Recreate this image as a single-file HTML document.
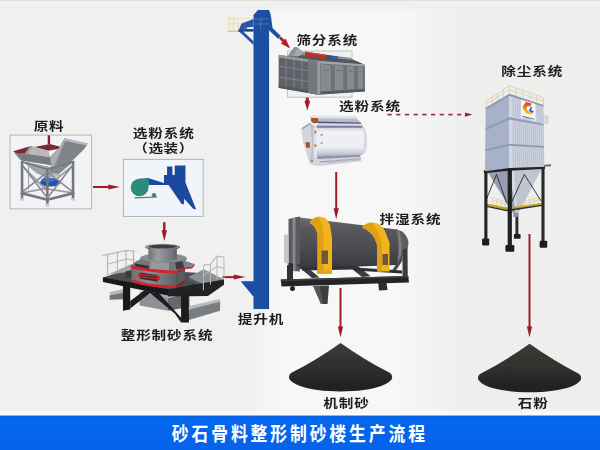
<!DOCTYPE html>
<html lang="zh-CN">
<head>
<meta charset="utf-8">
<title>砂石骨料整形制砂楼生产流程</title>
<style>
html,body{margin:0;padding:0;background:#f1f1f0;}
body{width:600px;height:450px;overflow:hidden;position:relative;font-family:"Liberation Sans","Noto Sans CJK SC",sans-serif;}
svg{display:block;position:absolute;left:0;top:0;}
.lb{font-family:"Liberation Sans","Noto Sans CJK SC",sans-serif;font-weight:700;font-size:14px;fill:#1c1c1c;letter-spacing:0.8px;}
.bn{font-family:"Liberation Sans","Noto Sans CJK SC",sans-serif;font-weight:700;font-size:16.8px;fill:#fff;letter-spacing:2.9px;}
</style>
</head>
<body>
<svg width="600" height="450" viewBox="0 0 600 450">
<defs>
  <linearGradient id="bg" gradientUnits="userSpaceOnUse" x1="0" y1="0" x2="600" y2="0">
    <stop offset="0" stop-color="#f0f0ef"/>
    <stop offset="0.42" stop-color="#f0f0ef"/>
    <stop offset="0.462" stop-color="#f7f7f7"/>
    <stop offset="0.66" stop-color="#f7f7f7"/>
    <stop offset="0.76" stop-color="#efefef"/>
    <stop offset="1" stop-color="#eeeeed"/>
  </linearGradient>
  <linearGradient id="ban" x1="0" y1="0" x2="0" y2="1">
    <stop offset="0" stop-color="#0267ee"/>
    <stop offset="1" stop-color="#0563ea"/>
  </linearGradient>
  <linearGradient id="tp" x1="0" y1="0" x2="0" y2="1">
    <stop offset="0" stop-color="#e3ddd6"/>
    <stop offset="0.09" stop-color="#e6e1da"/>
    <stop offset="0.15" stop-color="#f5f3ea"/>
    <stop offset="0.3" stop-color="#f3f3ee"/>
    <stop offset="0.5" stop-color="#eef0f3"/>
    <stop offset="0.75" stop-color="#eef0f2" stop-opacity="0.8"/>
    <stop offset="1" stop-color="#efefee" stop-opacity="0"/>
  </linearGradient>
  <linearGradient id="wl" x1="0" y1="0" x2="0" y2="1">
    <stop offset="0" stop-color="#f8f8fa" stop-opacity="0"/>
    <stop offset="0.45" stop-color="#f8f8fa" stop-opacity="0.9"/>
    <stop offset="1" stop-color="#fbfbfd" stop-opacity="1"/>
  </linearGradient>
  <filter id="soft" x="0" y="0" width="600" height="450" filterUnits="userSpaceOnUse"><feGaussianBlur stdDeviation="0.45"/></filter>
  <filter id="soft2" x="0" y="0" width="600" height="450" filterUnits="userSpaceOnUse"><feGaussianBlur stdDeviation="0.3"/></filter>
  <marker id="ah" markerWidth="8" markerHeight="8" refX="4" refY="4" orient="auto" markerUnits="userSpaceOnUse">
    <path d="M0,0 L8,4 L0,8 Z" fill="#b5252b"/>
  </marker>
</defs>
<!-- BACKGROUND -->
<rect width="600" height="450" fill="url(#bg)"/>
<rect width="600" height="11" fill="url(#tp)"/>
<!-- BANNER -->
<rect x="0" y="408.5" width="600" height="7.5" fill="url(#wl)"/>
<rect x="0" y="415.7" width="600" height="34.3" fill="url(#ban)"/>
<rect x="0" y="415.7" width="600" height="0.9" fill="#0b52c8" opacity="0.7"/>
<text class="bn" transform="translate(171.8,440.8) scale(1,1.16)">砂石骨料整形制砂楼生产流程</text>


<g filter="url(#soft)">
<!-- ARROWS -->
<g fill="#9c1f29" stroke="none">
  <rect x="47.7" y="135.5" width="2.4" height="8" fill="#8e1f2a"/>
  <!-- hopper -> classifier -->
  <rect x="93" y="186.0" width="16.3" height="2.0"/><path d="M108.3,184.5 L119.8,187.0 L108.3,189.5 Z"/>
  <!-- classifier -> crusher -->
  <rect x="163.1" y="222.2" width="2.4" height="9.0"/><path d="M161.6,230.2 L164.3,241.2 L167,230.2 Z"/>
  <!-- crusher -> elevator -->
  <rect x="222.5" y="276.1" width="12.3" height="2.0"/><path d="M233.8,274.6 L245.3,277.1 L233.8,279.6 Z"/>
  <!-- elevator -> screen -->
  <path d="M278,37.4 L279.8,35.4 L284.4,39.8 L285.6,38.6 L290.2,48.6 L280.8,43.6 L282.4,42 Z" fill="#b0222c"/>
  <!-- screen -> separator -->
  <path d="M305.9,97 L308.7,97 L308.9,100.6 L310.1,101.2 L307.3,110.4 L304.5,101.2 L305.7,100.6 Z" fill="#a51f29"/>
  <!-- separator -> mixer -->
  <rect x="335.2" y="172" width="2.0" height="37.2"/><path d="M333.6,208.2 L336.2,219.2 L338.8,208.2 Z"/>
  <!-- mixer -> pile -->
  <rect x="339.5" y="288" width="2.0" height="39.5"/><path d="M337.9,326.5 L340.5,337.5 L343.1,326.5 Z"/>
  <!-- dust -> pile -->
  <rect x="528.5" y="234" width="2.0" height="93.5"/><path d="M526.9,326.5 L529.5,337.5 L532.1,326.5 Z"/>
  <!-- dashed -->
  <g fill="#9e2636">
    <rect x="387.5" y="113.8" width="4.2" height="1.6"/><rect x="396.2" y="113.8" width="4.2" height="1.6"/>
    <rect x="404.9" y="113.8" width="4.2" height="1.6"/><rect x="413.6" y="113.8" width="4.2" height="1.6"/>
    <rect x="422.3" y="113.8" width="4.2" height="1.6"/><rect x="431" y="113.8" width="4.2" height="1.6"/>
    <rect x="439.7" y="113.8" width="4.2" height="1.6"/><rect x="448.4" y="113.8" width="4.2" height="1.6"/>
    <rect x="457.1" y="113.8" width="4.2" height="1.6"/>
    <path d="M465,112.5 L472.5,114.6 L465,116.7 Z"/>
  </g>
</g>

<!-- PILES -->
<g>
  <linearGradient id="pg" x1="0" y1="0" x2="0" y2="1"><stop offset="0" stop-color="#3b3b38"/><stop offset="0.55" stop-color="#2e2e2c"/><stop offset="1" stop-color="#1f1f1f"/></linearGradient>
  <path d="M340.6,342.9 Q317.6,359.3 291.0,373.1 A51.6,14.4 0 1 0 390.20000000000005,373.1 Q363.6,359.3 340.6,342.9 Z" fill="url(#pg)"/>
  <path d="M529.6,343.8 Q506.6,360.2 480.0,374.0 A51.6,14.4 0 1 0 579.2,374.0 Q552.6,360.2 529.6,343.8 Z" fill="url(#pg)"/>
</g>

<!-- HOPPER (raw material) -->
<g transform="translate(8,133) scale(0.17121)">
  <rect x="12" y="12" width="476" height="431" fill="#f2f3f5" stroke="#a6aeba" stroke-width="5"/>
  <rect x="232" y="14" width="14" height="50" fill="#8e1f2a"/>
  <!-- back frame -->
  <g stroke="#999ca1" stroke-width="10" fill="none">
    <line x1="215" y1="200" x2="215" y2="335"/>
    <line x1="82" y1="350" x2="215" y2="325"/><line x1="215" y1="325" x2="380" y2="350"/>
    <line x1="82" y1="190" x2="215" y2="325"/><line x1="380" y1="190" x2="215" y2="325"/>
    <line x1="120" y1="190" x2="120" y2="330" stroke-width="6"/>
  </g>
  <!-- blue motor -->
  <ellipse cx="248" cy="288" rx="60" ry="25" fill="#2751ab"/>
  <ellipse cx="236" cy="274" rx="42" ry="14" fill="#3c6bc6"/>
  <!-- cone under hopper -->
  <path d="M85,165 L250,200 L385,165 L290,245 L225,262 L165,232 Z" fill="#85888e"/>
  <path d="M85,165 L250,200 L240,258 L165,232 Z" fill="#a0a3a8"/>
  <ellipse cx="270" cy="245" rx="38" ry="10" fill="#b7b9bd"/>
  <!-- frame front -->
  <g stroke="#73767c" stroke-width="15" fill="none" stroke-linecap="square">
    <line x1="82" y1="170" x2="82" y2="385"/>
    <line x1="230" y1="215" x2="230" y2="420"/>
    <line x1="380" y1="170" x2="380" y2="385"/>
    <line x1="82" y1="352" x2="230" y2="390"/><line x1="230" y1="390" x2="380" y2="352"/>
    <line x1="82" y1="168" x2="230" y2="212" stroke-width="10"/><line x1="230" y1="212" x2="380" y2="168" stroke-width="10"/>
  </g>
  <g stroke="#85888e" stroke-width="9" fill="none">
    <line x1="82" y1="185" x2="230" y2="380"/><line x1="82" y1="345" x2="228" y2="230"/>
    <line x1="380" y1="185" x2="230" y2="380"/><line x1="380" y1="345" x2="232" y2="230"/>
  </g>
  <g fill="#c9cbcf">
    <rect x="70" y="380" width="24" height="14"/><rect x="218" y="412" width="24" height="16"/><rect x="368" y="380" width="24" height="14"/>
  </g>
  </g><g transform="translate(8,133) scale(0.14667)">
  <!-- hopper top -->
  <path d="M60,140 L285,165 L430,195 L295,232 L290,218 L95,188 Z" fill="#6f7278"/>
  <path d="M35,125 L150,90 L180,96 L115,142 L60,142 Z" fill="#7b2c33"/>
  <path d="M35,125 L60,142 L95,188 L80,180 Z" fill="#85888e"/>
  <path d="M180,95 L285,75 L385,100 L275,121 Z" fill="#7a2930"/>
  <path d="M115,142 L150,90 L180,96 L275,121 L287,166 L115,146 Z" fill="#b6b9be"/>
  <path d="M115,142 L150,90 L165,93 L135,144 Z" fill="#9c9fa5"/>
  <path d="M60,140 L115,142 L287,166 L290,218 L95,186 Z" fill="#777a80"/>
  <!-- right wing plate -->
  <path d="M385,35 L545,72 L520,107 L430,196 L295,232 L287,162 L350,100 Z" fill="#8d9096"/>
  <path d="M385,35 L545,72 L535,86 L376,50 Z" fill="#b9bbc0"/>
  <path d="M287,162 L350,100 L376,50 L392,56 L365,112 L312,226 L295,232 Z" fill="#a9acb1"/>
  <path d="M392,56 L535,86 L520,107 L430,196 L330,222 L365,112 Z" fill="#80838a"/>
</g>

<!-- CLASSIFIER BOX (optional) -->
<g transform="translate(118,155) scale(0.15333)">
  <rect x="35" y="28" width="520" height="372" fill="#f1f5f9" stroke="#98a1ae" stroke-width="5"/>
  <path d="M195,150 L300,182 L300,130 L320,130 L320,75 L355,75 L355,130 L370,130 L370,68 L440,68 L440,180 L510,355 L490,350 L432,285 L430,322 L415,320 L330,195 L200,195 Z" fill="#1f4aa0"/>
  <circle cx="140" cy="212" r="57" fill="#2e8b7b"/><path d="M135,155 L200,149 L201,198 L192,240 Z" fill="#2e8b7b"/>
  <circle cx="235" cy="262" r="14" fill="#3a8575"/>
  <path d="M108,276 L255,270 L255,277 L108,283 Z" fill="#3a7d70"/>
</g>

<!-- ELEVATOR -->
<g>
  <g transform="translate(225,0) scale(0.13333)">
    <!-- railing -->
    <g stroke="#dcd8a8" stroke-width="5" fill="none">
      <rect x="27" y="135" width="72" height="98" fill="#f0efe2"/>
      <line x1="27" y1="178" x2="99" y2="178"/><line x1="64" y1="135" x2="64" y2="233"/>
      <line x1="99" y1="138" x2="214" y2="140" stroke="#e3e0bf"/>
    </g>
    <rect x="24" y="231" width="80" height="8" fill="#c4c19e"/>
    <rect x="98" y="226" width="118" height="10" fill="#3b4d78"/>
    <!-- head -->
    <path d="M247,75 L330,75 L343,112 L356,210 L416,268 L400,292 L330,226 L330,2317 L214,2317 L214,2225 L118,2110 L214,2110 L214,112 Z" fill="#1c4fa3" stroke="#dfe8f6" stroke-width="9" paint-order="stroke"/>
    <path d="M124,176 L214,142 L214,200 L163,207 L163,218 L214,218 L214,232 L100,232 Z" fill="#2355ab"/>
    <path d="M98,228 L122,224 L214,310 L214,338 Z" fill="#2355ab"/>
    <rect x="104" y="223" width="112" height="12" fill="#27437f"/>
    <rect x="324" y="330" width="6" height="1987" fill="#163f8a" opacity="0.6"/>
    <g stroke="#b9c2a6" stroke-width="3" fill="none" opacity="0.75">
      <line x1="268" y1="140" x2="268" y2="228"/><line x1="214" y1="142" x2="330" y2="142"/>
      <line x1="214" y1="180" x2="330" y2="180"/><line x1="150" y1="168" x2="150" y2="228"/>
    </g>
  </g>
  </g>
</g>


<!-- CRUSHER -->
<g transform="translate(98,232) scale(0.23333)">
  <defs>
    <linearGradient id="cyl" x1="0" y1="0" x2="1" y2="0">
      <stop offset="0" stop-color="#5f6267"/><stop offset="0.35" stop-color="#9a9da2"/><stop offset="0.7" stop-color="#7b7e84"/><stop offset="1" stop-color="#55585d"/>
    </linearGradient>
    <linearGradient id="cyl2" x1="0" y1="0" x2="1" y2="0">
      <stop offset="0" stop-color="#6a6d72"/><stop offset="0.4" stop-color="#8e9196"/><stop offset="1" stop-color="#5a5d62"/>
    </linearGradient>
  </defs>
  <!-- base beams -->
  <path d="M50,258 L108,244 L108,262 L50,275 Z" fill="#b4b6ba"/>
  <path d="M50,272 L108,260 L108,288 L50,290 Z" fill="#707378"/>
  <path d="M386,318 L523,287 L523,300 L386,335 Z" fill="#b9bbbe"/>
  <path d="M386,333 L523,299 L523,338 L386,378 Z" fill="#7a7d82"/>
  <!-- base box -->
  <path d="M178,258 L300,283 L300,338 L178,315 Z" fill="#8e9196"/>
  <path d="M300,283 L392,262 L392,320 L300,338 Z" fill="#65686d"/>
  <path d="M178,258 L232,236 L320,262 L300,285 Z" fill="#a3a6ab"/>
  <!-- left railing -->
  <g stroke="#b0b2b6" stroke-width="4.5" fill="none">
    <path d="M19,101 L41,97 L120,79 L158,82"/>
    <path d="M41,138 L120,116 L158,120"/>
    <line x1="41" y1="97" x2="41" y2="185"/><line x1="83" y1="87" x2="83" y2="165"/>
    <line x1="120" y1="79" x2="120" y2="148"/><line x1="152" y1="82" x2="152" y2="132"/>
  </g>
  <!-- platform top -->
  <path d="M21,195 L140,158 L420,175 L540,206 L300,250 Z" fill="#4b4d51"/>
  <path d="M43,182 L141,138 L188,146 L120,173 Z" fill="#a3a5a9"/>
  <!-- right box -->
  <path d="M386,193 L454,160 L540,204 L471,236 Z" fill="#8c8f93"/>
  <path d="M386,193 L471,236 L471,250 L386,208 Z" fill="#55585c"/>
  <path d="M400,215 L455,238 L455,262 L400,240 Z" fill="#3c3e42"/>
  <!-- platform edges -->
  <path d="M21,194 L300,245 L300,272 L21,214 Z" fill="#19191b"/>
  <path d="M300,245 L540,204 L540,226 L471,274 L300,276 Z" fill="#222224"/>
  <!-- legs -->
  <path d="M107,224 L138,231 L138,332 L107,338 Z" fill="#19191b"/>
  <path d="M356,268 L388,266 L390,388 L356,388 Z" fill="#1c1c1e"/>
  <path d="M138,296 L200,250 L230,256 L138,328 Z" fill="#1d1d1f"/>
  <path d="M215,255 L262,262 L358,370 L356,388 L330,350 Z" fill="#1d1d1f"/>
  <!-- flat ring behind tube -->
  <ellipse cx="280" cy="116" rx="100" ry="20" fill="#5d6064"/>
  <ellipse cx="280" cy="112" rx="100" ry="20" fill="#8a8d92"/>
  <!-- cone -->
  <path d="M182,118 Q277,146 374,118 L373,157 L336,170 Q215,168 141,147 Q150,128 182,118 Z" fill="#73767b"/>
  <path d="M224,128 L304,132 L304,168 L224,162 Z" fill="#95989d"/>
  <path d="M158,135 L218,146 L218,159 L160,147 Z" fill="#2f3135"/>
  <path d="M330,131 L361,125 L370,154 L336,161 Z" fill="#3b3d41"/>
  <path d="M361,120 L413,137 L401,149 L372,151 Z" fill="#7f8287"/>
  <path d="M372,151 L401,149 L413,137 L415,143 L402,156 L373,159 Z" fill="#d0222a"/>
  <!-- main body -->
  <path d="M141,148 Q215,168 336,170 L336,234 Q215,230 143,206 Z" fill="url(#cyl2)"/>
  <path d="M336,170 L373,157 L373,208 L336,234 Z" fill="#585b60"/>
  <!-- small motor left -->
  <path d="M118,168 L143,164 L143,194 L118,196 Z" fill="#3a3c40"/>
  <!-- red rings -->
  <path d="M139,143 Q215,164 336,166 L336,177 Q215,175 141,155 Z" fill="#d8222a"/>
  <path d="M336,166 L373,154 L373,163 L336,177 Z" fill="#b81c24"/>
  <path d="M143,202 Q215,226 336,229 L336,241 Q215,238 146,215 Z" fill="#d8222a"/>
  <path d="M336,229 L373,205 L373,214 L336,241 Z" fill="#9a1a20"/>
  <path d="M179,174 L256,184 L256,213 L179,200 Z" fill="#2c2e31"/>
  <path d="M172,176 L182,178 L182,196 L172,193 Z" fill="#d8222a"/>
  <path d="M253,187 L266,189 L266,206 L253,204 Z" fill="#d8222a"/>
  <path d="M182,178 L253,187 L253,193 L182,184 Z" fill="#cf2028"/>
  <path d="M182,189 L253,198 L253,204 L182,195 Z" fill="#cf2028"/>
  <!-- top cylinder -->
  <path d="M203,60 L351,60 L351,68 L338,74 L338,118 Q277,136 216,118 L216,74 L203,68 Z" fill="url(#cyl)"/>
  <ellipse cx="277" cy="61" rx="75" ry="11" fill="#a3a6ab"/>
  <ellipse cx="277" cy="62.5" rx="63" ry="8.5" fill="#3d3f43"/>
  <!-- right railing -->
  <g stroke="#b5b7ba" stroke-width="4.5" fill="none">
    <path d="M452,142 L482,138 L510,103 L540,108"/>
    <path d="M452,185 L510,148 L540,155"/>
    <line x1="452" y1="142" x2="452" y2="250"/><line x1="510" y1="103" x2="510" y2="205"/><line x1="540" y1="108" x2="540" y2="195"/>
    <line x1="482" y1="138" x2="482" y2="225"/>
  </g>
</g>


<!-- SCREEN -->
<g transform="translate(278,38) scale(0.2)">
  <rect x="48" y="65" width="322" height="231" fill="#eef0f2" stroke="#b3b8c0" stroke-width="4"/>
  <!-- inlet hood -->
  <path d="M45,95 L82,45 L100,48 L135,78 L135,105 Z" fill="#a7aaaf"/>
  <path d="M82,45 L100,48 L70,100 L45,95 Z" fill="#8d9095"/>
  <path d="M100,92 L135,78 L372,106 L435,134 L200,118 L3,88 Z" fill="#53565b"/>
  <!-- shaft -->
  <path d="M125,70 L370,100 L370,110 L125,88 Z" fill="#8a8d92"/>
  <path d="M135,68 L240,84 L240,106 L135,92 Z" fill="#ad3529"/>
  <path d="M135,68 L240,84 L240,90 L135,74 Z" fill="#c44c3c"/>
  <path d="M240,84 L300,94 L300,110 L240,104 Z" fill="#4a4d52"/>
  <path d="M262,88 L300,94 L300,106 L262,102 Z" fill="#2c5fa8"/>
  <!-- left (long) face -->
  <path d="M3,86 L200,116 L200,282 L3,248 Z" fill="#5f6369"/>
  <g stroke="#81868c" stroke-width="5" fill="none">
    <line x1="40" y1="94" x2="40" y2="254"/><line x1="80" y1="100" x2="80" y2="261"/>
    <line x1="120" y1="106" x2="120" y2="268"/><line x1="160" y1="112" x2="160" y2="275"/>
    <line x1="3" y1="141" x2="200" y2="171"/><line x1="3" y1="195" x2="200" y2="226"/>
  </g>
  <path d="M3,84 L200,114 L200,128 L3,98 Z" fill="#969a9f"/>
  <path d="M3,236 L200,269 L200,284 L3,250 Z" fill="#54575c"/>
  <path d="M150,108 L200,116 L200,282 L150,274 Z" fill="#74787e"/>
  <!-- right face -->
  <path d="M200,116 L435,134 L435,266 L200,282 Z" fill="#767a80"/>
  <g fill="#878b91" stroke="#54575c" stroke-width="3">
    <path d="M212,128 L268,132 L268,266 L212,270 Z"/>
    <path d="M280,133 L330,136 L330,262 L280,265 Z"/>
    <path d="M342,137 L385,140 L385,258 L342,261 Z"/>
    <path d="M396,141 L428,143 L428,255 L396,257 Z"/>
  </g>
  <g stroke="#6a6d72" stroke-width="4">
    <line x1="225" y1="160" x2="258" y2="161"/><line x1="290" y1="163" x2="322" y2="164"/><line x1="350" y1="166" x2="378" y2="167"/><line x1="402" y1="168" x2="424" y2="169"/>
  </g>
  <path d="M200,114 L435,132 L435,142 L200,126 Z" fill="#a3a7ac"/>
  <path d="M200,270 L435,256 L435,268 L200,284 Z" fill="#55585d"/>
  <path d="M197,114 L212,116 L212,283 L197,283 Z" fill="#9a9ea3"/>
</g>

<!-- POWDER SEPARATOR -->
<g transform="translate(296,110) scale(0.1377)">
  <defs>
    <linearGradient id="drum" x1="0" y1="0" x2="0" y2="1">
      <stop offset="0" stop-color="#c9cad6"/><stop offset="0.18" stop-color="#f0f0f5"/><stop offset="0.7" stop-color="#ecedf2"/><stop offset="0.9" stop-color="#c6c8d3"/><stop offset="1" stop-color="#a9abba"/>
    </linearGradient>
  </defs>
  <!-- base -->
  <path d="M95,392 L150,332 L465,318 L476,372 L170,408 Z" fill="#d3d5de"/>
  <path d="M150,338 L465,322 L468,340 L160,356 Z" fill="#8e90a6"/>
  <path d="M175,372 L470,350 L472,358 L176,382 Z" fill="#9a9cb0"/>
  <g fill="#b5b7c6"><path d="M228,368 L300,362 L300,380 L228,386 Z"/><path d="M318,360 L385,355 L385,372 L318,378 Z"/><path d="M400,354 L455,350 L455,366 L400,371 Z"/></g>
  <!-- drum -->
  <path d="M150,122 L478,118 Q515,125 515,222 Q515,318 478,326 L150,338 Z" fill="url(#drum)"/>
  <path d="M478,118 Q515,125 515,222 Q515,318 478,326 Q496,300 496,222 Q496,140 478,118 Z" fill="#d4d5de"/>
  <!-- left end -->
  <path d="M38,132 L100,92 L142,122 L142,342 L98,384 L52,236 Z" fill="#d2d4de"/>
  <path d="M38,132 L100,92 L108,100 L52,140 Z" fill="#a4a6b8"/>
  <path d="M100,92 L142,122 L142,342 L98,384 L118,240 Z" fill="#c0c2cf"/>
  <path d="M128,130 L150,122 L150,338 L128,348 Z" fill="#e4e5ec"/>
  <!-- top plates -->
  <path d="M98,38 L440,44 L442,62 L104,60 Z" fill="#e3e4eb"/>
  <path d="M104,60 L442,62 L470,92 L160,88 Z" fill="#b9bbca"/>
  <path d="M160,84 L472,90 L472,102 L160,98 Z" fill="#4f5480"/>
  <path d="M150,98 L482,100 L486,114 L150,112 Z" fill="#dcdde6"/>
  <path d="M150,112 L486,114 L478,128 L150,128 Z" fill="#7a7e9c"/>
  <!-- details -->
  <path d="M108,56 L160,60 L162,92 L130,98 L110,84 Z" fill="#a5521f"/>
  <path d="M68,236 L98,232 L102,272 L76,276 Z" fill="#a5521f"/>
  <rect x="134" y="150" width="14" height="20" fill="#c07040"/>
  <rect x="178" y="174" width="16" height="12" fill="#b98a70"/>
  <rect x="134" y="250" width="14" height="18" fill="#c07040"/>
  <rect x="178" y="236" width="16" height="10" fill="#b98a70"/>
  <rect x="108" y="364" width="16" height="14" fill="#b9764c"/>
</g>


<!-- MIXER -->
<g transform="translate(272,205) scale(0.25)">
  <defs>
    <linearGradient id="mdrum" x1="0" y1="0" x2="0" y2="1">
      <stop offset="0" stop-color="#6d6f72"/><stop offset="0.2" stop-color="#585a5e"/><stop offset="0.6" stop-color="#4a4c50"/><stop offset="1" stop-color="#36383b"/>
    </linearGradient>
  </defs>
  <!-- discharge end -->
  <path d="M495,96 L523,107 Q545,130 546,150 Q545,180 527,200 L498,240 Z" fill="#5d5f62"/>
  <path d="M495,96 L508,101 Q530,165 508,228 L498,240 Z" fill="#7b7d80"/>
  <!-- right stand -->
  <path d="M522,178 L542,172 L543,290 L522,290 Z" fill="#3a3c3f"/>
  <path d="M480,262 L522,200 L522,222 L492,268 Z" fill="#4a4c50"/>
  <!-- drum -->
  <path d="M95,48 L500,98 Q512,170 500,240 L95,256 Z" fill="url(#mdrum)"/>
  <!-- left end cap -->
  <path d="M66,56 L112,46 L112,266 L66,262 Z" fill="#595b5f"/>
  <path d="M82,52 L94,50 L94,265 L82,264 Z" fill="#85888c"/>
  <path d="M48,120 L66,116 L66,236 L48,230 Z" fill="#c3c5c7"/>
  <path d="M66,232 L84,234 L84,296 L66,296 Z" fill="#2e3033"/>
  <!-- rails under drum -->
  <path d="M95,238 L125,236 L190,290 L160,292 Z" fill="#3a3c40"/>
  <path d="M300,240 L335,238 L395,285 L360,288 Z" fill="#3a3c40"/>
  <path d="M120,250 L330,245 L330,258 L120,262 Z" fill="#2d2f32"/>
  <path d="M330,250 L520,262 L520,274 L330,262 Z" fill="#2d2f32"/>
  <!-- ring 1 -->
  <path d="M150,72 Q160,48 190,46 Q222,48 232,80 L240,130 L240,268 L182,268 L182,120 Q176,82 150,72 Z" fill="#f3b31d"/>
  <path d="M150,72 Q160,52 182,48 Q200,60 205,120 L205,268 L182,268 L182,120 Q176,82 150,72 Z" fill="#dfa016"/>
  <path d="M198,182 L224,182 L224,236 L198,236 Z" fill="#6b5a3a"/><path d="M180,262 L240,262 L240,276 L180,276 Z" fill="#e5a718"/>
  <!-- ring 2 -->
  <path d="M360,90 Q375,70 405,70 Q440,76 452,105 L470,150 L470,266 L420,266 L420,160 Q408,108 360,90 Z" fill="#f3b31d"/>
  <path d="M360,90 Q375,72 398,70 Q428,100 440,160 L440,266 L420,266 L420,160 Q408,108 360,90 Z" fill="#dfa016"/>
  <path d="M442,196 L464,196 L464,240 L442,240 Z" fill="#6b5a3a"/>
  <!-- base frame -->
  <path d="M35,298 L545,284 L548,310 L38,326 Z" fill="#232426"/>
  <path d="M35,298 L545,284 L545,290 L35,305 Z" fill="#3d3f42"/>
  <path d="M60,300 L75,300 L75,245 L60,240 Z" fill="#2f3134"/>
  <circle cx="82" cy="334" r="10" fill="#1e1f21"/>
  <!-- center leg/hopper -->
  <path d="M165,324 L228,322 L222,396 L196,396 Z" fill="#3b3d41"/>
  <path d="M165,324 L190,324 L205,396 L196,396 Z" fill="#55575b"/>
  <!-- right foot -->
  <path d="M425,312 L458,310 L462,340 L428,342 Z" fill="#2b2c2f"/>
</g>


<!-- DUST COLLECTOR -->
<g transform="translate(475,80) scale(0.2222)">
  <defs>
    <pattern id="ribsR" width="9" height="10" patternUnits="userSpaceOnUse">
      <rect width="9" height="10" fill="#c9cfdc"/><rect x="0" width="3" height="10" fill="#b7bfd0"/>
    </pattern>
  </defs>
  <!-- back leg -->
  <rect x="182" y="590" width="13" height="108" fill="#2a2b2e"/>
  <rect x="175" y="693" width="30" height="22" rx="4" fill="#1e1f21"/>
  <!-- cone -->
  <path d="M57,414 L158,408 L184,600 L168,596 Z" fill="#979eb0"/>
  <path d="M158,408 L298,404 L194,602 L184,600 Z" fill="#bfc5d1"/>
  <path d="M158,408 L175,408 L190,600 L184,600 Z" fill="#d5d9e2"/>
  <rect x="172" y="598" width="22" height="18" fill="#8d93a3"/>
  <!-- platform railings -->
  <g stroke="#d6cc92" stroke-width="3" fill="none">
    <path d="M78,528 L136,548 M78,540 L136,560 M78,528 L78,562 M98,535 L98,568 M118,541 L118,573 M136,548 L136,577"/>
    <path d="M224,545 L286,528 M224,558 L286,540 M224,545 L224,575 M245,539 L245,570 M266,533 L266,565 M286,528 L286,560"/>
  </g>
  <!-- platform -->
  <path d="M52,556 L143,574 L308,552 L308,560 L143,584 L52,566 Z" fill="#c8a51e"/>
  <path d="M52,566 L143,584 L308,560 L308,566 L143,591 L52,572 Z" fill="#2a2b2e"/>
  <!-- braces -->
  <g stroke="#232427" stroke-width="4" fill="none">
    <path d="M52,535 L97,425 L143,555"/><path d="M167,545 L222,425 L298,545"/>
  </g>
  <!-- frame top beam -->
  <path d="M40,406 L156,393 L315,388 L315,400 L156,408 L40,420 Z" fill="#232427"/>
  <!-- legs -->
  <rect x="42" y="410" width="14" height="310" fill="#232427"/>
  <rect x="32" y="713" width="32" height="32" rx="5" fill="#1b1c1e"/>
  <rect x="299" y="396" width="14" height="332" fill="#2a2b2e"/>
  <rect x="291" y="723" width="34" height="32" rx="5" fill="#1b1c1e"/>
  <rect x="147" y="400" width="19" height="348" fill="#1f2022"/>
  <rect x="137" y="743" width="40" height="30" rx="5" fill="#1b1c1e"/>
  <!-- body -->
  <path d="M48,125 L155,62 L155,396 L45,411 Z" fill="#a7b2c8"/>
  <path d="M155,62 L308,112 L312,390 L155,396 Z" fill="url(#ribsR)"/>
  <path d="M155,62 L165,65 L165,396 L155,396 Z" fill="#d6dbe6"/>
  <!-- bands -->
  <path d="M48,216 L155,168 L308,197 L308,205 L155,178 L48,226 Z" fill="#909bb3"/>
  <path d="M46,312 L155,287 L310,297 L310,305 L155,296 L46,321 Z" fill="#909bb3"/>
  <path d="M48,125 L155,62 L308,112 L308,120 L155,72 L48,134 Z" fill="#8f9ab1"/>
  <!-- small box right -->
  <path d="M308,158 L328,165 L328,196 L308,190 Z" fill="#d9dbe0" stroke="#aab0bd" stroke-width="2"/>
  <path d="M312,381 L342,379 L342,388 L312,390 Z" fill="#6a6d74"/>
  <!-- logo panel -->
  <path d="M207,89 L273,108 L273,186 L207,170 Z" fill="#f5f5f3"/>
  <linearGradient id="lg" x1="0" y1="0" x2="0" y2="1"><stop offset="0" stop-color="#e0301c"/><stop offset="0.5" stop-color="#f58a1f"/><stop offset="1" stop-color="#f4d323"/></linearGradient>
  <path d="M217,117 L229,99 L255,106 L249,120 L237,117 L231,128 L239,141 L259,146 L255,156 L229,150 L215,126 Z" fill="url(#lg)"/>
  <path d="M251,121 L258,123 L252,135 L264,141 L260,148 L242,139 Z" fill="#2a62c4"/>
  <path d="M213,161 L267,174 L267,179 L213,166 Z" fill="#5b78b0"/>
  <path d="M222,171 L258,180 L258,182 L222,173 Z" fill="#a9b0c0"/>
  <!-- top railing -->
  <g stroke="#d9cf9c" stroke-width="3.5" fill="none">
    <path d="M50,95 L155,25 L308,80"/><path d="M50,110 L155,43 L308,96"/>
    <path d="M50,95 L50,126 M76,78 L76,110 M102,60 L102,94 M128,43 L128,78 M155,25 L155,62 M185,36 L185,72 M215,47 L215,82 M246,58 L246,92 M277,69 L277,102 M308,80 L308,113"/>
  </g>
</g>

</g>
<!-- LABELS -->
<g class="lb" text-anchor="middle" filter="url(#soft2)">
<text transform="translate(49.10,130.50) scale(1.045,0.86)">原料</text>
<text transform="translate(163.70,138.10) scale(1.045,0.86)">选粉系统</text>
<text transform="translate(163.60,153.40) scale(1.045,0.86)" style="letter-spacing:0.5px">（选装）</text>
<text transform="translate(327.30,44.90) scale(1.045,0.86)">筛分系统</text>
<text transform="translate(370.00,111.20) scale(1.045,0.86)">选粉系统</text>
<text transform="translate(532.20,75.80) scale(1.045,0.86)">除尘系统</text>
<text transform="translate(410.50,223.60) scale(1.045,0.86)">拌湿系统</text>
<text transform="translate(260.90,323.60) scale(1.045,0.86)">提升机</text>
<text transform="translate(167.05,339.90) scale(1.045,0.86)">整形制砂系统</text>
<text transform="translate(346.40,408.20) scale(1.045,0.86)">机制砂</text>
<text transform="translate(533.20,408.30) scale(1.045,0.86)">石粉</text>
</g>
</svg>
</body>
</html>
